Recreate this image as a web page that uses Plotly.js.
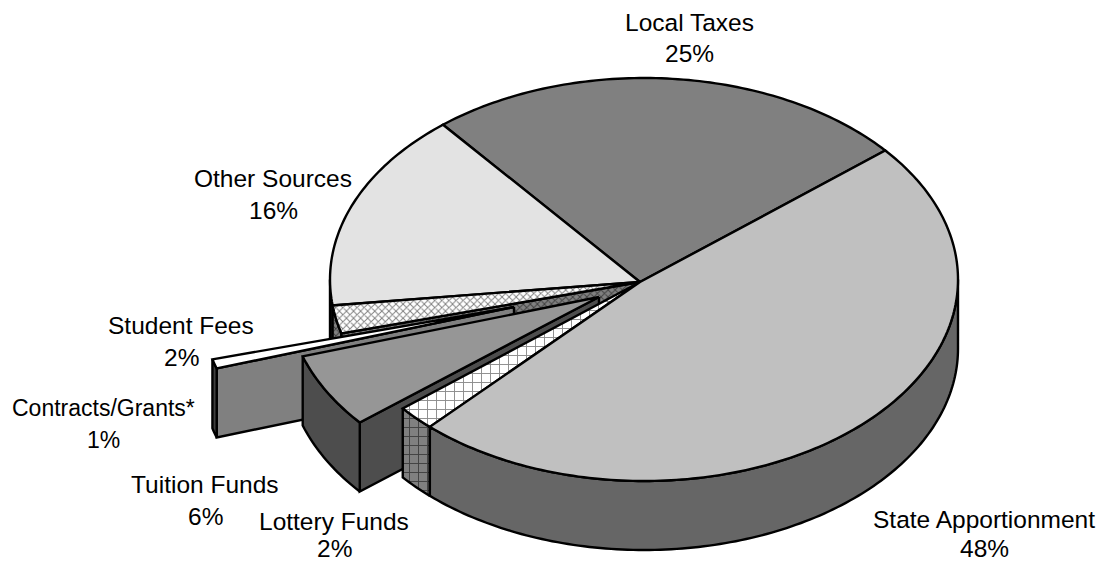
<!DOCTYPE html>
<html><head><meta charset="utf-8">
<script src="https://cdn.plot.ly/plotly-3.0.1.min.js"></script>
<style>html,body{margin:0;padding:0;background:#fff}</style></head>
<body><div id="chart" style="width:1104px;height:562px"></div>
<script>
const categories = ["State Apportionment","Lottery Funds","Tuition Funds","Contracts/Grants*","Student Fees","Other Sources","Local Taxes"];
const shares = [48,2,6,0.75,2.25,16,25];

const startDeg = -39.8, total = shares.reduce((a,b)=>a+b,0);
const E = {cx:644, cy:279.5, rx:314, ry:201.5, ax:640, ay:282, depth:69};
const explode = {"Contracts/Grants*":{dx:-129,dy:26,adx:-126,ady:25},"Tuition Funds":{dx:-43,dy:14,adx:-41,ady:15}};
const herringTop={shape:"x",fgcolor:"#808080",bgcolor:"#ffffff",size:5,solidity:0.35};
const herringWall={shape:"x",fgcolor:"#404040",bgcolor:"#808080",size:5,solidity:0.35};
const brickTop={shape:"+",fgcolor:"#8c8c8c",bgcolor:"#ffffff",size:9,solidity:0.2};
const brickWall={shape:"+",fgcolor:"#404040",bgcolor:"#808080",size:9,solidity:0.2};

let acc = startDeg; const slices = {};
categories.forEach((c,i)=>{const s=shares[i]/total*360; slices[c]={t0:acc,t1:acc+s}; acc+=s;});
const rad=d=>d*Math.PI/180;
function outer(c,t,dz){const o=explode[c]||{dx:0,dy:0};return [E.cx+o.dx+E.rx*Math.cos(rad(t)),E.cy+o.dy+dz+E.ry*Math.sin(rad(t))];}
function apex(c,dz){const o=explode[c]||{adx:0,ady:0};return [E.ax+o.adx,E.ay+o.ady+dz];}
function steps(a,b){const r=[];const n=Math.max(2,Math.ceil(Math.abs(b-a)));for(let i=0;i<=n;i++)r.push(a+(b-a)*i/n);return r;}
const traces=[];
function poly(pts,fill,pattern){
  const p=pts.concat([pts[0]]);
  const tr={type:"scatter",mode:"lines",x:p.map(q=>q[0]),y:p.map(q=>q[1]),fill:"toself",fillcolor:fill,
    line:{color:"#000",width:2.4,simplify:false},hoverinfo:"skip",showlegend:false};
  if(pattern) tr.fillpattern=pattern;
  traces.push(tr);
}
function arcWall(c,a,b,fill,pattern){
  const r=steps(a,b);
  poly(r.map(t=>outer(c,t,0)).concat(r.slice().reverse().map(t=>outer(c,t,E.depth))),fill,pattern);
}
function radWall(c,t,fill,pattern){
  poly([apex(c,0),outer(c,t,0),outer(c,t,E.depth),apex(c,E.depth)],fill,pattern);
}
function face(c,fill,pattern){
  const s=slices[c];
  poly([apex(c,0)].concat(steps(s.t0,s.t1).map(t=>outer(c,t,0))),fill,pattern);
}
const S=c=>slices[c];
// painter's order: back to front
arcWall("Other Sources",S("Other Sources").t0,180,"#4d4d4d");
face("Local Taxes","#808080");
face("Other Sources","#e3e3e3");
arcWall("Student Fees",S("Student Fees").t0,S("Student Fees").t1,"#808080",herringWall);
radWall("Student Fees",S("Student Fees").t0,"#808080",herringWall);
face("Student Fees","#ffffff",herringTop);
radWall("Contracts/Grants*",S("Contracts/Grants*").t0,"#808080");
arcWall("Contracts/Grants*",S("Contracts/Grants*").t0,S("Contracts/Grants*").t1,"#404040");
face("Contracts/Grants*","#ffffff");
radWall("Tuition Funds",S("Tuition Funds").t0,"#4d4d4d");
arcWall("Tuition Funds",S("Tuition Funds").t0,S("Tuition Funds").t1,"#4d4d4d");
face("Tuition Funds","#969696");
arcWall("Lottery Funds",S("Lottery Funds").t0,S("Lottery Funds").t1,"#808080",brickWall);
face("Lottery Funds","#ffffff",brickTop);
arcWall("State Apportionment",0,S("State Apportionment").t1,"#666666");
face("State Apportionment","#c0c0c0");

const labelPos={"State Apportionment":[984,519,548],"Local Taxes":[689,22,53],"Other Sources":[273,178,210],"Student Fees":[181,325,357],"Contracts/Grants*":[103,408,440],"Tuition Funds":[205,484,516],"Lottery Funds":[334,521,548]};
const labelSize={"Contracts/Grants*":23};
const annotations=[];
categories.forEach((c,i)=>{
  const p=labelPos[c];
  [[c,p[1]],[Math.round(shares[i])+"%",p[2]]].forEach(([txt,y])=>annotations.push({x:p[0],y:y,xref:"x",yref:"y",text:txt,showarrow:false,xanchor:"center",yanchor:"middle",borderpad:0,font:{family:"Liberation Sans, Arial, sans-serif",size:labelSize[c]||24.5,color:"#000"}}));
});
Plotly.newPlot("chart",traces,{width:1104,height:562,margin:{l:0,r:0,t:0,b:0},paper_bgcolor:"#fff",plot_bgcolor:"#fff",showlegend:false,
  xaxis:{range:[0,1104],visible:false,fixedrange:true},yaxis:{range:[562,0],visible:false,fixedrange:true},annotations},{displayModeBar:false,staticPlot:true});
</script></body></html>
